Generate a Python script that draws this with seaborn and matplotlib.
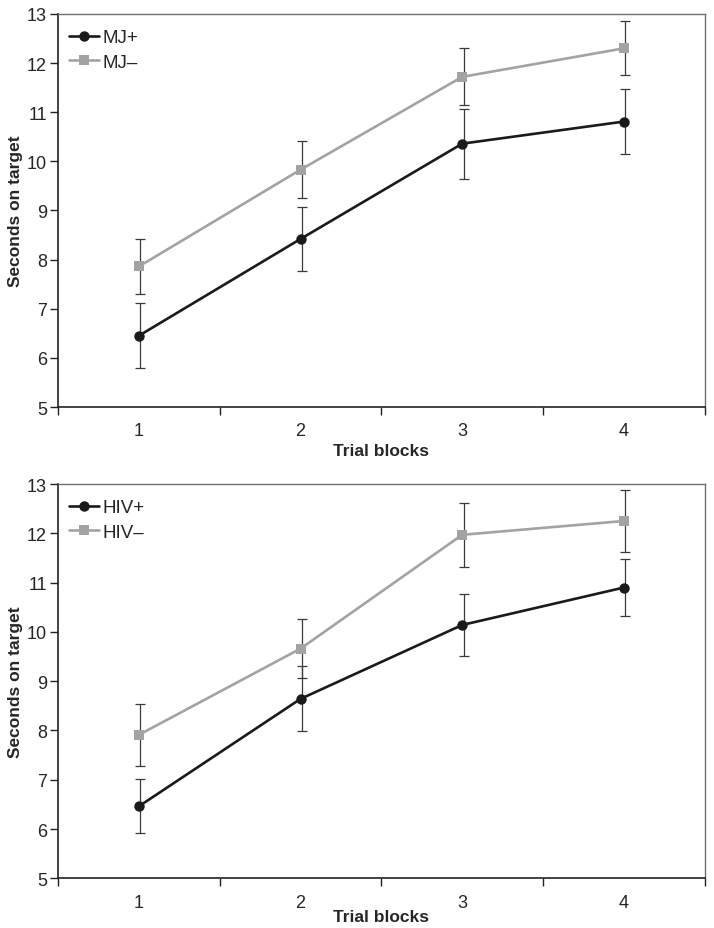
import numpy as np
import pandas as pd
import seaborn as sns
import matplotlib.pyplot as plt
from matplotlib.ticker import FixedLocator, NullFormatter, FixedFormatter

# data
blocks = ["1", "2", "3", "4"]

mj_pos = [6.45, 8.42, 10.36, 10.81]
mj_pos_err = [0.66, 0.66, 0.71, 0.67]
mj_neg = [7.86, 9.83, 11.72, 12.30]
mj_neg_err = [0.55, 0.58, 0.58, 0.55]

hiv_pos = [6.46, 8.64, 10.14, 10.90]
hiv_pos_err = [0.55, 0.66, 0.62, 0.58]
hiv_neg = [7.91, 9.66, 11.97, 12.25]
hiv_neg_err = [0.63, 0.60, 0.65, 0.62]

panels = [
    (["MJ+", "MJ\u2013"], [mj_pos, mj_neg], [mj_pos_err, mj_neg_err], 3),
    (["HIV+", "HIV\u2013"], [hiv_pos, hiv_neg], [hiv_pos_err, hiv_neg_err], -1),
]

sns.set_theme(style="white")
plt.rcParams['font.family'] = ['Liberation Sans', 'DejaVu Sans']

fig = plt.figure(figsize=(7.14, 9.29), dpi=100)
ax_top = fig.add_axes([0.0812, 0.5608, 0.9058, 0.4231])
ax_bot = fig.add_axes([0.0812, 0.0535, 0.9058, 0.4244])

colors = ["#1a1a1a", "#a3a3a3"]
markers = ["o", "s"]
msize = {"o": 7.5, "s": 6.5}

for ax, (labels, series, errs, xpad) in zip([ax_top, ax_bot], panels):
    rows = []
    for lab, vals in zip(labels, series):
        for i, v in enumerate(vals):
            rows.append({"block": i, "group": lab, "value": v})
    df = pd.DataFrame(rows)

    # error bars first so lines sit on top
    for vals, err in zip(series, errs):
        ax.errorbar(np.arange(len(blocks)) + 0.01, vals, yerr=err, fmt="none",
                    ecolor="#3a3a3a", elinewidth=0.9, capsize=3.5, capthick=0.9,
                    zorder=2)

    sns.lineplot(data=df, x="block", y="value", hue="group", style="group",
                 palette=dict(zip(labels, colors)),
                 markers=dict(zip(labels, markers)), dashes=False,
                 markersize=7.5, markeredgewidth=0, linewidth=1.9, ax=ax,
                 zorder=3)
    for ln in ax.lines:
        m = ln.get_marker()
        if m in msize:
            ln.set_markersize(msize[m])

    ax.set_xlim(-0.5, len(blocks) - 0.5)
    ax.set_ylim(5, 13)
    ax.set_yticks(range(5, 14))
    ax.xaxis.set_major_locator(FixedLocator(np.arange(-0.5, len(blocks), 1.0)))
    ax.xaxis.set_major_formatter(NullFormatter())
    ax.xaxis.set_minor_locator(FixedLocator(np.arange(len(blocks))))
    ax.xaxis.set_minor_formatter(FixedFormatter(blocks))
    ax.tick_params(axis="x", which="major", direction="out", length=6,
                   width=1, color="#222222", bottom=True)
    ax.tick_params(axis="x", which="minor", length=0, pad=11, labelsize=13)
    ax.tick_params(axis="y", direction="out", length=6, width=1,
                   color="#222222", left=True, labelsize=13, pad=2)

    ax.set_xlabel("Trial blocks", fontsize=12.5, fontweight="bold",
                  labelpad=xpad)
    ax.set_ylabel("Seconds on target", fontsize=12.5, fontweight="bold")
    ax.yaxis.set_label_coords(-0.054, 0.5)

    for side in ["left", "bottom"]:
        ax.spines[side].set_color("#222222")
        ax.spines[side].set_linewidth(1.2)
    for side in ["top", "right"]:
        ax.spines[side].set_color("#707070")
        ax.spines[side].set_linewidth(1.0)

    leg = ax.legend(loc="upper left", bbox_to_anchor=(0.0, 0.99),
                    frameon=False, fontsize=13.5,
                    handlelength=1.6, handletextpad=0.2, labelspacing=0.4,
                    borderaxespad=0.2)
    for h in leg.legend_handles:
        m = h.get_marker()
        if m in msize:
            h.set_markersize(msize[m])

fig.savefig("out.png", dpi=100)
